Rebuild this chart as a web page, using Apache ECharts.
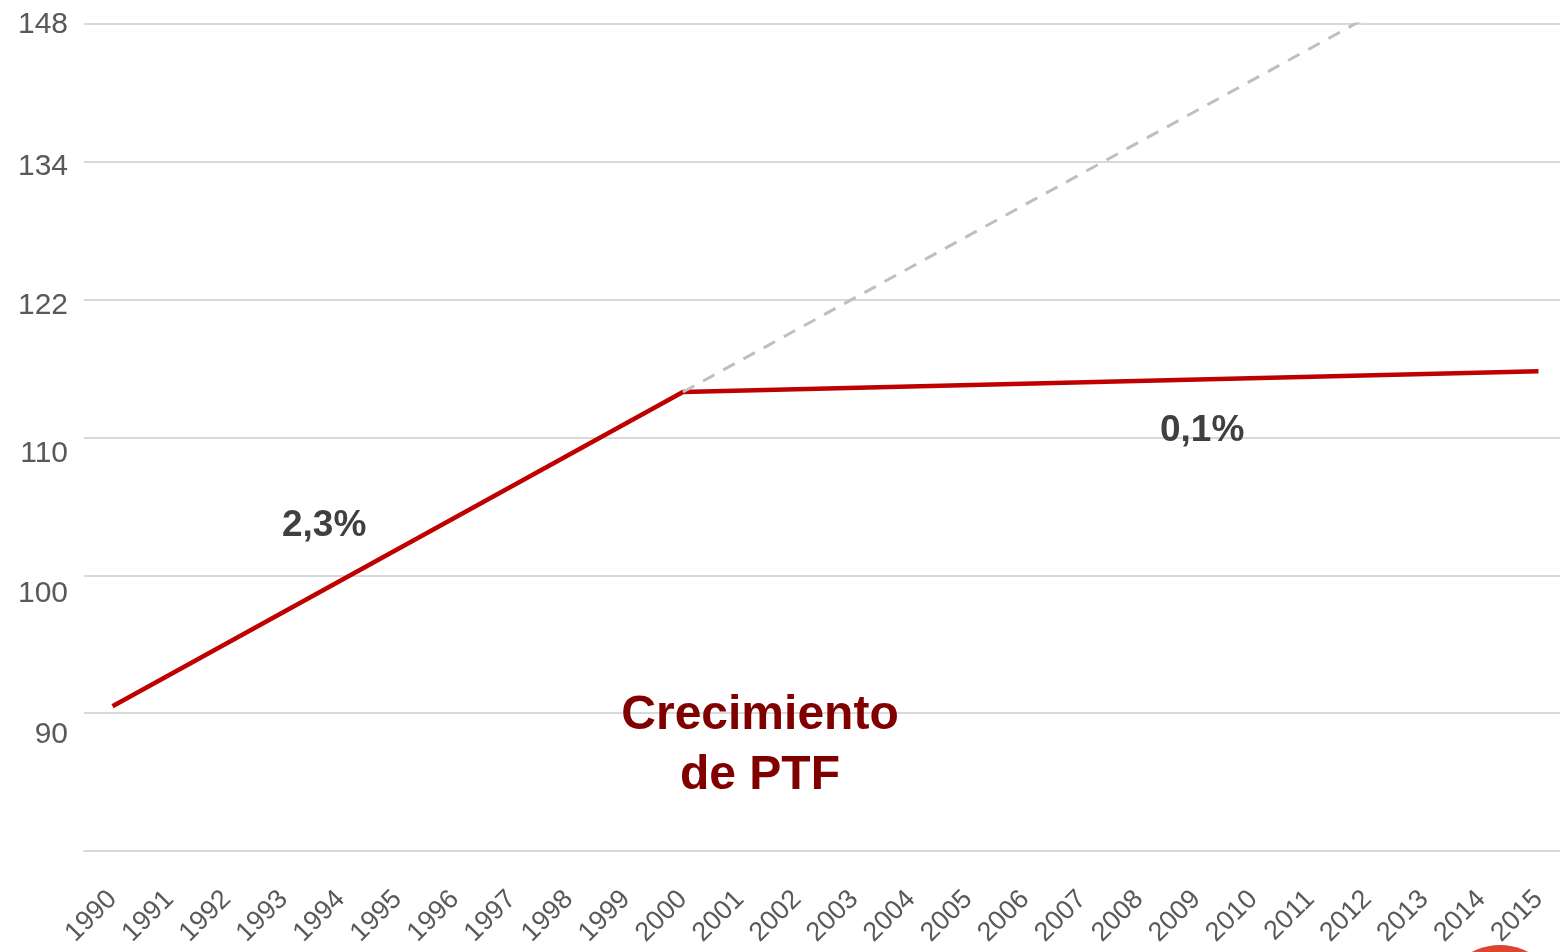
<!DOCTYPE html>
<html>
<head>
<meta charset="utf-8">
<script src="https://cdn.jsdelivr.net/npm/echarts@6/dist/echarts.min.js"></script>
<style>
  html, body { margin: 0; padding: 0; background: #fff; }
  #main { width: 1560px; height: 952px; }
</style>
</head>
<body>
<div id="main"></div>
<script>
// log index (ln) of PTF, 1990-2015
var years = ['1990','1991','1992','1993','1994','1995','1996','1997','1998','1999','2000',
  '2001','2002','2003','2004','2005','2006','2007','2008','2009','2010','2011','2012','2013','2014','2015'];
var ptf = [4.505, null, null, null, null, null, null, null, null, null, 4.733,
  null, null, null, null, null, null, null, null, null, null, null, null, null, null, 4.748];
var trend = [null, null, null, null, null, null, null, null, null, null, 4.733,
  null, null, null, null, null, null, null, null, null, null, null, null, null, null, 5.073];
var yTickLabels = { '4.5': '90', '4.6': '100', '4.7': '110', '4.8': '122', '4.9': '134', '5.0': '148' };
var yLabelShift = { '4.5': 22, '4.6': 18, '4.7': 16, '4.8': 6, '4.9': 5, '5.0': 1 };

var myChart = echarts.init(document.getElementById('main'));

var rich = {};
Object.keys(yLabelShift).forEach(function (k, i) {
  var s = yLabelShift[k];
  rich['l' + i] = {
    fontSize: 30, color: '#595959', fontFamily: 'Liberation Sans, Arial, sans-serif',
    padding: s >= 0 ? [s * 2, 0, 0, 0] : [0, 0, -s * 2, 0]
  };
});

option = {
  animation: false,
  backgroundColor: '#fff',
  grid: { left: 84, right: -7, top: 24, bottom: 101, outerBoundsMode: 'none' },
  xAxis: {
    type: 'category',
    data: years,
    boundaryGap: true,
    axisLine: { show: true, lineStyle: { color: '#d9d9d9', width: 2 } },
    axisTick: { show: false },
    axisLabel: {
      interval: 0, rotate: 45, margin: 44,
      fontSize: 27, color: '#595959', fontFamily: 'Liberation Sans, Arial, sans-serif'
    }
  },
  yAxis: {
    type: 'value',
    min: 4.4, max: 5.0, interval: 0.1,
    axisLine: { show: false },
    axisTick: { show: false },
    splitLine: { lineStyle: { color: '#d9d9d9', width: 2 } },
    axisLabel: {
      margin: 16,
      formatter: function (v) {
        var k = v.toFixed(1);
        if (!yTickLabels[k]) return '';
        var i = Object.keys(yLabelShift).indexOf(k);
        return '{l' + i + '|' + yTickLabels[k] + '}';
      },
      rich: rich
    }
  },
  series: [
    {
      type: 'line', data: ptf, connectNulls: true, symbol: 'none',
      lineStyle: { color: '#c00000', width: 4.5 }
    },
    {
      type: 'line', data: trend, connectNulls: true, symbol: 'none', clip: true,
      lineStyle: { color: '#bfbfbf', width: 3, type: [13, 10] }
    }
  ],
  graphic: [
    { type: 'text', left: 282, top: 507, z: 100, style: { text: '2,3%', font: 'bold 37px Liberation Sans, Arial', fill: '#404040' } },
    { type: 'text', left: 1160, top: 412, z: 100, style: { text: '0,1%', font: 'bold 37px Liberation Sans, Arial', fill: '#404040' } },
    { type: 'text', x: 760, y: 746, z: 100, style: {
        text: 'Crecimiento\nde PTF', font: 'bold 48px Liberation Sans, Arial', fill: '#800000',
        align: 'center', verticalAlign: 'middle', lineHeight: 60 } },
    { type: 'circle', shape: { cx: 1500, cy: 1005, r: 60 }, style: { fill: '#dc4530' }, z: -1 }
  ]
};

myChart.setOption(option);
</script>
</body>
</html>
